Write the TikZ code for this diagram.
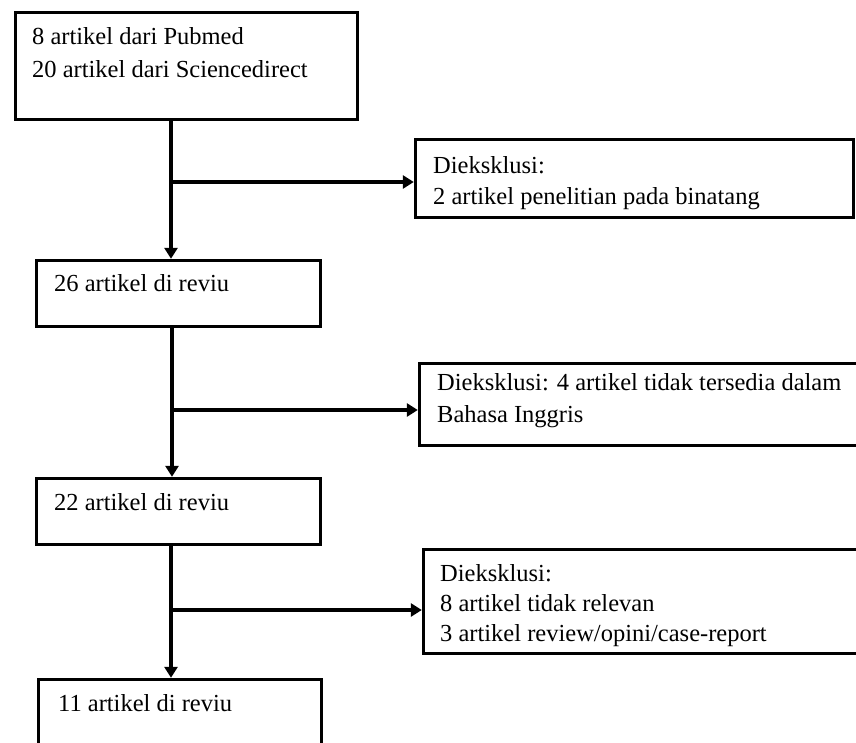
\documentclass[tikz,border=0pt]{standalone}
\usepackage{fontspec}
\setmainfont{Liberation Serif}
\usetikzlibrary{arrows.meta}
\begin{document}
\begin{tikzpicture}[x=1pt,y=-1pt,
  box/.style={draw=black, line width=3.4pt, inner sep=0pt, rectangle},
  conn/.style={line width=3.4pt},
  arr/.style={conn, -{Triangle[length=11pt,width=13pt]}},
  txt/.style={anchor=base west, inner sep=0pt, font=\fontsize{24.5}{32}\selectfont}]
\useasboundingbox (0,0) rectangle (856,742);
\clip (0,0) rectangle (856,742);
\fill[white] (0,0) rectangle (856,742);

% boxes
\node[box, minimum width=342pt, minimum height=107pt] (b1) at (186.5,66) {};
\node[box, minimum width=438pt, minimum height=78pt] (b2) at (634.5,178.5) {};
\node[box, minimum width=284pt, minimum height=66pt] (b26) at (178.5,293.5) {};
\node[box, minimum width=449pt, minimum height=82pt] (b4) at (644,404.5) {};
\node[box, minimum width=284pt, minimum height=66pt] (b22) at (178.5,511.5) {};
\node[box, minimum width=445pt, minimum height=104pt] (b6) at (646,601.5) {};
\node[box, minimum width=283pt, minimum height=79pt] (b11) at (180,719) {};

% texts
\node[txt] (t1a) at (32,44) {8 artikel dari Pubmed};
\node[txt] (t1b) at (32,77) {20 artikel dari Sciencedirect};
\node[txt] (t2a) at (433,173) {Dieksklusi:};
\node[txt] (t2b) at (433,204) {2 artikel penelitian pada binatang};
\node[txt] (t26) at (54,291) {26 artikel di reviu};
\node[txt] (t4a) at (437,390) {Dieksklusi: 4 artikel tidak tersedia dalam};
\node[txt] (t4b) at (437,422) {Bahasa Inggris};
\node[txt] (t22) at (54,510) {22 artikel di reviu};
\node[txt] (t6a) at (440,581) {Dieksklusi:};
\node[txt] (t6b) at (440,611) {8 artikel tidak relevan};
\node[txt] (t6c) at (440,641) {3 artikel review/opini/case-report};
\node[txt] (t11) at (58,711) {11 artikel di reviu};

% connectors
\coordinate (j1) at (171,182);
\coordinate (j2) at (172,410);
\coordinate (j3) at (171,610);
\draw[arr] (b1.south -| j1) -- (b26.north -| j1);
\draw[arr] (j1) -- (j1 -| b2.west);
\draw[arr] (b26.south -| j2) -- (b22.north -| j2);
\draw[arr] (j2) -- (j2 -| b4.west);
\draw[arr] (b22.south -| j3) -- (b11.north -| j3);
\draw[arr] (j3) -- (j3 -| b6.west);
\end{tikzpicture}
\end{document}
